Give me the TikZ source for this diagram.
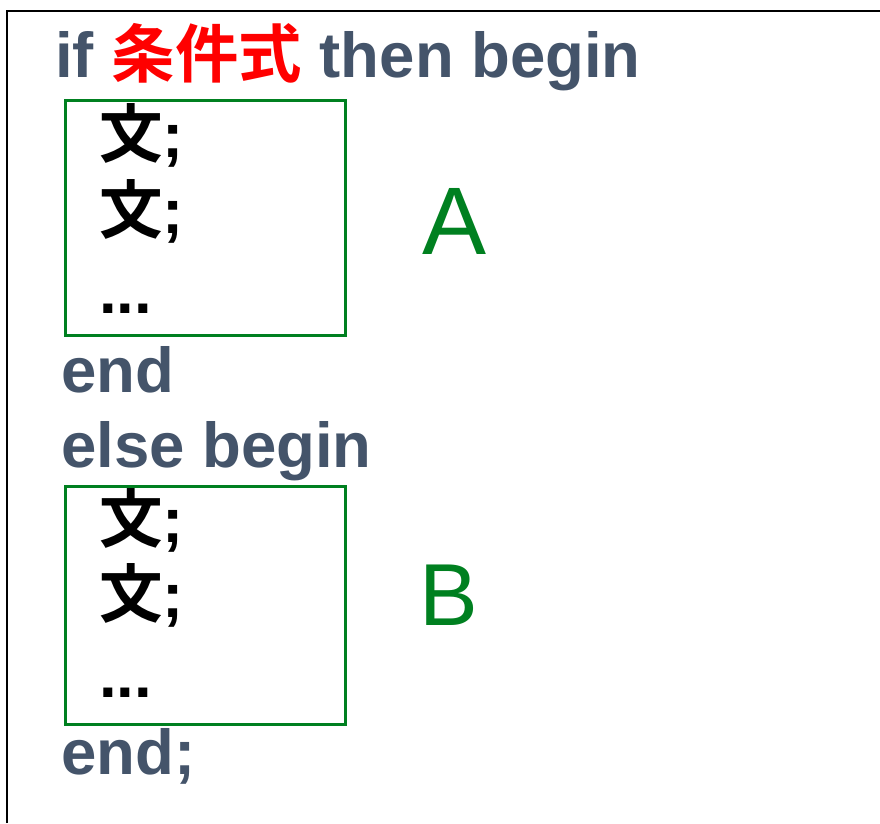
\documentclass[tikz,border=0pt]{standalone}
\usepackage{fontspec}
\setmainfont{Liberation Sans}
\newfontfamily\cjk{Noto Sans CJK JP}[BoldFont={Noto Sans CJK JP Bold}]
\definecolor{codegray}{HTML}{44546A}
\definecolor{boxgreen}{RGB}{0,128,32}
\definecolor{kwred}{RGB}{255,0,0}
\begin{document}
\begin{tikzpicture}[x=1pt,y=-1pt,
  code/.style={anchor=base west,inner sep=0pt,text=codegray,font=\fontsize{63.5}{70}\selectfont\bfseries},
  stmt/.style={anchor=base west,inner sep=0pt,text=black,font=\fontsize{63.5}{70}\selectfont\bfseries},
  blk/.style={draw=boxgreen,line width=3.5pt},
  lbl/.style={anchor=base west,inner sep=0pt,text=boxgreen}]
\useasboundingbox (0,0) rectangle (880,823);
\draw[line width=2pt] (7,823) -- (7,11) -- (880,11);
% header
\node[code] (hdr) at (55,77) {if \textcolor{kwred}{\cjk\bfseries 条件式} then begin};
% box A
\draw[blk] (65.5,100.5) rectangle (345.5,335.5);
\node[stmt] (a1) at (99,157) {{\cjk\bfseries 文};};
\node[stmt] (a2) at (99,233) {{\cjk\bfseries 文};};
\node[stmt] (a3) at (99,313) {...};
\node[lbl,font=\fontsize{96}{100}\selectfont] (A) at (422,254) {A};
\node[code] (end1) at (61,392) {end};
\node[code] (else) at (61,467) {else begin};
% box B
\draw[blk] (65.5,486.5) rectangle (345.5,724.5);
\node[stmt] (b1) at (99,542) {{\cjk\bfseries 文};};
\node[stmt] (b2) at (99,617) {{\cjk\bfseries 文};};
\node[stmt] (b3) at (99,697) {...};
\node[lbl,font=\fontsize{88}{92}\selectfont] (B) at (419,625) {B};
\node[code] (end2) at (61,774) {end;};
\end{tikzpicture}
\end{document}
